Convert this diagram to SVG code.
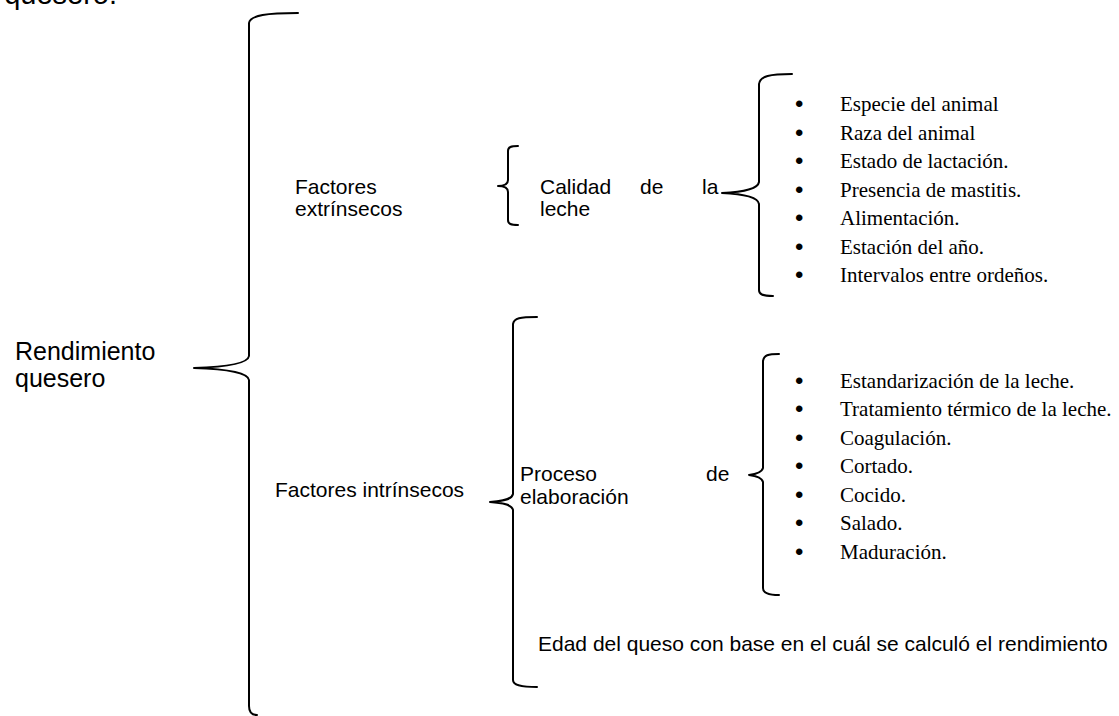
<svg xmlns="http://www.w3.org/2000/svg" width="1119" height="716" viewBox="0 0 1119 716">
<style>
.sans{font-family:"Liberation Sans",Arial,sans-serif;font-size:21px;fill:#000}
.big{font-size:25px}
.serif{font-family:"Liberation Serif","Times New Roman",serif;font-size:21px;fill:#000}
.bul{font-family:"Liberation Sans",Arial,sans-serif;font-size:24px;fill:#000}
.br{fill:none;stroke:#000;stroke-width:2;stroke-linejoin:round;stroke-linecap:round}
</style>
<rect width="1119" height="716" fill="#fff"/>
<g id="heading"><text class="sans" x="117" y="4" text-anchor="end" style="font-size:29px">quesero.</text></g>
<g id="connectors">
<path class="br" d="M298 13 C268 13 250 15 249 23 L249 356 C248 364 225 367 194 368 C225 369 248 372 249 380 L249 706 C249 712 252 715 257 715"/>
<path class="br" d="M518 146 C511 146 508 147 508 151 L508 180 C508 184 505 186 498 186 C505 186 508 188 508 192 L508 220 C508 224 511 225 518 225"/>
<path class="br" d="M792 74 C770 74 760 76 759 84 L759 182 C758 189 745 192 722 193 C745 194 758 197 759 204 L759 290 C759 294 762 296 773 296"/>
<path class="br" d="M537 317 C520 317 514 318 513 324 L513 494 C512 499 505 501 490 502 C505 503 512 505 513 510 L513 680 C513 685 520 687 537 687"/>
<path class="br" d="M779 354 C768 354 764 355 763 361 L763 468 C762 472 757 474 749 475 C757 476 762 478 763 482 L763 588 C763 592 768 595 779 595"/>
</g>
<g id="root"><text class="sans big" x="15" y="360">Rendimiento</text><text class="sans big" x="15" y="387">quesero</text></g>
<g id="extrinsecos"><text class="sans" x="295" y="194">Factores</text><text class="sans" x="295" y="216">extrínsecos</text></g>
<g id="calidad"><text class="sans" y="194"><tspan x="540">Calidad</tspan><tspan x="640">de</tspan><tspan x="702">la</tspan></text><text class="sans" x="540" y="216">leche</text></g>
<g id="lista-calidad">
<text class="bul" x="795" y="112">•</text><text class="serif" x="840" y="111">Especie del animal</text>
<text class="bul" x="795" y="141">•</text><text class="serif" x="840" y="140">Raza del animal</text>
<text class="bul" x="795" y="169">•</text><text class="serif" x="840" y="168">Estado de lactación.</text>
<text class="bul" x="795" y="198">•</text><text class="serif" x="840" y="197">Presencia de mastitis.</text>
<text class="bul" x="795" y="226">•</text><text class="serif" x="840" y="225">Alimentación.</text>
<text class="bul" x="795" y="255">•</text><text class="serif" x="840" y="254">Estación del año.</text>
<text class="bul" x="795" y="283">•</text><text class="serif" x="840" y="282">Intervalos entre ordeños.</text>
</g>
<g id="intrinsecos"><text class="sans" x="275" y="497">Factores intrínsecos</text></g>
<g id="proceso"><text class="sans" y="481"><tspan x="520">Proceso</tspan><tspan x="706">de</tspan></text><text class="sans" x="520" y="504">elaboración</text></g>
<g id="lista-proceso">
<text class="bul" x="795" y="389">•</text><text class="serif" x="840" y="388">Estandarización de la leche.</text>
<text class="bul" x="795" y="417">•</text><text class="serif" x="840" y="416">Tratamiento térmico de la leche.</text>
<text class="bul" x="795" y="446">•</text><text class="serif" x="840" y="445">Coagulación.</text>
<text class="bul" x="795" y="474">•</text><text class="serif" x="840" y="473">Cortado.</text>
<text class="bul" x="795" y="503">•</text><text class="serif" x="840" y="502">Cocido.</text>
<text class="bul" x="795" y="531">•</text><text class="serif" x="840" y="530">Salado.</text>
<text class="bul" x="795" y="560">•</text><text class="serif" x="840" y="559">Maduración.</text>
</g>
<g id="edad"><text class="sans" x="538" y="651">Edad del queso con base en el cuál se calculó el rendimiento</text></g>
</svg>
